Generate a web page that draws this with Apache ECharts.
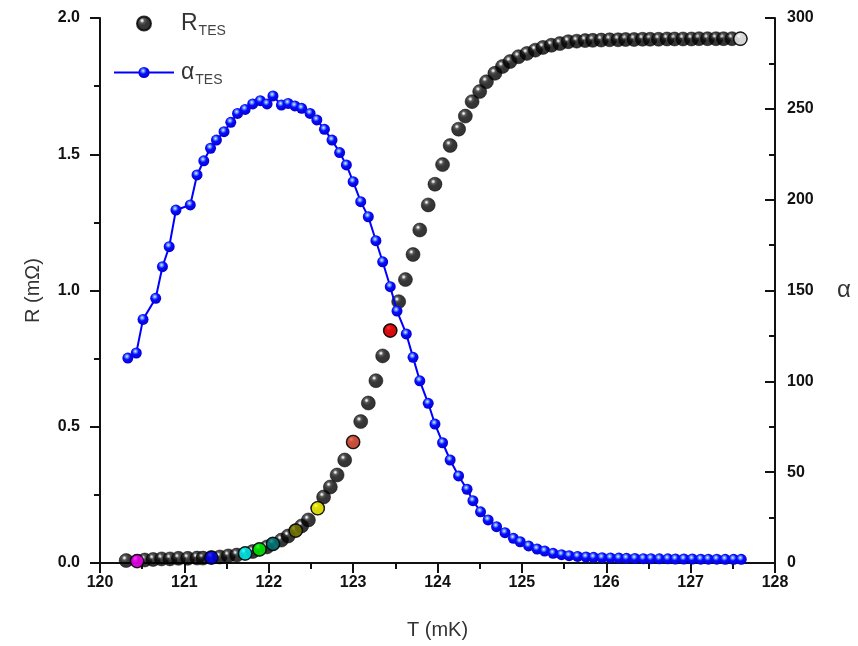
<!DOCTYPE html>
<html>
<head>
<meta charset="utf-8">
<script src="https://cdn.jsdelivr.net/npm/echarts@6/dist/echarts.min.js"></script>
<style>
html,body{margin:0;padding:0;background:#fff;}
#chart{width:858px;height:646px;}
</style>
</head>
<body>
<div id="chart"></div>
<script>
// ---- Data ----
// R_TES (mOhm) vs T (mK)
var rT = [120.31,120.44,120.53,120.63,120.73,120.83,120.93,121.04,121.15,121.22,
          121.32,121.42,121.52,121.62,121.72,121.81,121.89,121.98,122.05,122.15,
          122.23,122.32,122.39,122.47,122.58,122.65,122.73,122.81,122.90,123.00,
          123.09,123.18,123.27,123.35,123.44,123.54,123.62,123.71,123.79,123.89,
          123.97,124.06,124.15,124.25,124.33,124.41,124.50,124.58,124.68,124.77,
          124.86,124.96,125.06,125.16,125.25,125.35,125.45,125.55,125.65,125.75,
          125.84,125.94,126.04,126.14,126.23,126.33,126.43,126.52,126.62,126.72,
          126.81,126.91,127.01,127.10,127.20,127.30,127.39,127.49,127.59];
var rVal = [0.009,0.007,0.011,0.013,0.015,0.015,0.017,0.017,0.018,0.018,
            0.020,0.022,0.026,0.029,0.035,0.042,0.050,0.059,0.070,0.084,
            0.099,0.119,0.136,0.158,0.201,0.242,0.279,0.323,0.378,0.444,
            0.519,0.587,0.669,0.760,0.853,0.959,1.040,1.132,1.222,1.314,
            1.390,1.462,1.532,1.592,1.640,1.693,1.730,1.766,1.797,1.822,
            1.840,1.858,1.870,1.882,1.892,1.900,1.906,1.913,1.915,1.917,
            1.918,1.919,1.920,1.920,1.921,1.921,1.922,1.922,1.922,1.923,
            1.923,1.923,1.923,1.924,1.924,1.924,1.924,1.924,1.924];
// alpha_TES vs T (mK)
var aT = [120.33,120.43,120.51,120.66,120.74,120.82,120.90,121.07,121.15,121.23,
          121.31,121.38,121.47,121.55,121.63,121.72,121.81,121.90,121.98,122.05,
          122.15,122.23,122.31,122.39,122.49,122.57,122.66,122.75,122.84,122.92,
          123.00,123.09,123.18,123.27,123.35,123.44,123.52,123.63,123.71,123.79,
          123.89,123.97,124.06,124.15,124.25,124.35,124.42,124.51,124.60,124.70,
          124.80,124.90,124.98,125.08,125.18,125.27,125.37,125.47,125.56,125.66,
          125.76,125.85,125.95,126.05,126.15,126.24,126.34,126.44,126.53,126.63,
          126.73,126.82,126.92,127.02,127.12,127.21,127.31,127.41,127.51,127.60];
var aVal = [112.8,115.6,134.1,145.7,163.1,174.1,194.3,197.1,213.6,221.4,
            228.3,232.8,237.4,242.6,247.5,249.7,252.7,254.5,252.7,257.1,
            252.1,253.0,251.6,250.3,247.5,243.9,238.7,232.8,225.9,219.1,
            209.9,198.9,190.6,177.4,165.8,152.1,138.7,126.1,113.2,100.3,
            87.9,76.5,66.2,56.7,47.9,40.6,34.3,28.2,23.7,20.0,
            16.7,13.6,11.7,9.4,7.7,6.6,5.3,4.6,4.0,3.6,
            3.3,3.1,2.9,2.8,2.7,2.6,2.5,2.4,2.4,2.3,
            2.3,2.2,2.2,2.2,2.1,2.1,2.1,2.0,2.0,2.0];
// Highlighted R points (index into rT/rVal) and their fill colours
var hiIndex = [1, 10, 14, 16, 18, 21, 24, 29, 34, 78];
var hiColor = ['#ff00ff','#0000ff','#00ffff','#00ff00','#008080','#808000','#ffff00','#e8553c','#ff0000','#ffffff'];
// Axis ticks
var xTicks = {min:120, max:128, step:1};
var yLeft = {min:0, max:2, step:0.5};
var yRight = {min:0, max:300, step:50};

var FONT = 'Arial, "Liberation Sans", sans-serif';

var blackSphere = {type:'radial', x:0.38, y:0.32, r:0.62,
  colorStops:[{offset:0,color:'#ffffff'},{offset:0.1,color:'#c8c8c8'},{offset:0.25,color:'#303030'},{offset:0.5,color:'#050505'},{offset:1,color:'#000000'}]};
var blueSphere = {type:'radial', x:0.42, y:0.35, r:0.7,
  colorStops:[{offset:0,color:'#e0f4ff'},{offset:0.16,color:'#6fa8ff'},{offset:0.42,color:'#0c0cff'},{offset:1,color:'#0000c8'}]};

var rData = rT.map(function(t,i){return [t, rVal[i]];});
var aData = aT.map(function(t,i){return [t, aVal[i]];});
var hiData = hiIndex.map(function(idx,k){
  return {value:[rT[idx], rVal[idx]], itemStyle:{color:hiColor[k], borderColor:'#000', borderWidth:1.2}};
});

var chart = echarts.init(document.getElementById('chart'), null, {renderer:'canvas'});
var axisLineStyle = {color:'#111', width:2};
var labelStyle = {fontFamily:FONT, fontSize:16, fontWeight:'bold', color:'#111'};

chart.setOption({
  animation:false,
  backgroundColor:'#fff',
  grid:{left:100, right:83, top:18, bottom:83},
  legend:[
    {data:['R'], left:136, top:12, padding:0, itemWidth:14, itemHeight:14, selectedMode:false,
     formatter:function(){return '{m|R}{s|TES}';},
     textStyle:{rich:{m:{fontFamily:FONT,fontSize:23,color:'#333',padding:[0,0,0,25]}, s:{fontFamily:FONT,fontSize:14,color:'#444',padding:[16,0,0,1]}}}},
    {data:['α'], left:113, top:61, padding:0, itemWidth:60, itemHeight:14, selectedMode:false,
     formatter:function(){return '{m|α}{s|TES}';},
     textStyle:{rich:{m:{fontFamily:FONT,fontSize:23,color:'#333',padding:[0,0,0,2]}, s:{fontFamily:FONT,fontSize:14,color:'#444',padding:[16,0,0,1]}}}}
  ],
  xAxis:{type:'value', min:xTicks.min, max:xTicks.max, interval:xTicks.step,
    name:'T (mK)', nameLocation:'middle', nameGap:57,
    nameTextStyle:{fontFamily:FONT, fontSize:20, color:'#333'},
    axisLine:{show:true, lineStyle:axisLineStyle},
    axisTick:{show:true, inside:false, length:10, lineStyle:{color:'#111', width:2}},
    minorTick:{show:true, splitNumber:2, length:6, lineStyle:{color:'#111', width:2}},
    axisLabel:Object.assign({margin:12, formatter:function(v){return String(v);}}, labelStyle),
    splitLine:{show:false}},
  yAxis:[
    {type:'value', min:yLeft.min, max:yLeft.max, interval:yLeft.step, position:'left',
     name:'R (mΩ)', nameLocation:'middle', nameGap:57,
     nameTextStyle:{fontFamily:FONT, fontSize:20, color:'#333'},
     axisLine:{show:true, lineStyle:axisLineStyle},
     axisTick:{show:true, inside:false, length:10, lineStyle:{color:'#111', width:2}},
     minorTick:{show:true, splitNumber:2, length:6, lineStyle:{color:'#111', width:2}},
     axisLabel:Object.assign({margin:20, formatter:function(v){return v.toFixed(1);}}, labelStyle),
     splitLine:{show:false}},
    {type:'value', min:yRight.min, max:yRight.max, interval:yRight.step, position:'right',
     name:'α', nameLocation:'middle', nameGap:62, nameRotate:0,
     nameTextStyle:{fontFamily:FONT, fontSize:24, color:'#333'},
     axisLine:{show:true, lineStyle:axisLineStyle},
     axisTick:{show:true, inside:true, length:10, lineStyle:{color:'#111', width:2}},
     minorTick:{show:true, splitNumber:2, length:6, lineStyle:{color:'#111', width:2}},
     axisLabel:Object.assign({margin:12, formatter:function(v){return String(v);}}, labelStyle),
     splitLine:{show:false}}
  ],
  series:[
    {name:'R', type:'scatter', yAxisIndex:0, data:rData, symbol:'circle', symbolSize:14,
     itemStyle:{color:blackSphere, borderColor:'#000', borderWidth:0.6}, z:2},
    {name:'Rhi', type:'scatter', yAxisIndex:0, data:hiData, symbol:'circle', symbolSize:13, z:3},
    {name:'α', type:'line', yAxisIndex:1, data:aData, symbol:'circle', symbolSize:11, showSymbol:true,
     lineStyle:{color:'#0000ff', width:2}, itemStyle:{color:blueSphere, borderWidth:0}, z:4}
  ]
});
</script>
</body>
</html>
